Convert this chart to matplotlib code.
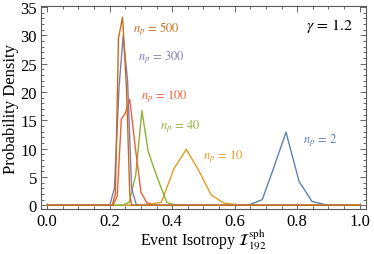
import matplotlib
matplotlib.use("Agg")
import matplotlib.pyplot as plt
from matplotlib.ticker import MultipleLocator

plt.rcParams['font.family'] = ['Liberation Serif', 'DejaVu Serif']
plt.rcParams['mathtext.fontset'] = 'stix'

# histogram curves (bin centre, density)
x_2 = [0.0, 0.60, 0.647, 0.688, 0.722, 0.764, 0.806, 0.847, 0.89, 0.93, 1.0]
y_2 = [0.0, 0.0, 0.1, 1.0, 6.2, 12.9, 4.2, 0.7, 0.1, 0.0, 0.0]

x_10 = [0.0, 0.28, 0.325, 0.365, 0.405, 0.445, 0.485, 0.525, 0.565, 0.605, 0.65, 1.0]
y_10 = [0.0, 0.0, 0.2, 0.5, 6.4, 9.9, 6.1, 1.8, 0.4, 0.1, 0.0, 0.0]

x_40 = [0.0, 0.24, 0.262, 0.283, 0.303, 0.323, 0.343, 0.363, 0.383, 0.403, 0.42, 1.0]
y_40 = [0.0, 0.0, 0.5, 5.3, 16.7, 9.5, 6.3, 3.3, 0.5, 0.1, 0.0, 0.0]

x_100 = [0.0, 0.21, 0.224, 0.237, 0.250, 0.264, 0.280, 0.300, 0.318, 0.338, 1.0]
y_100 = [0.0, 0.0, 1.6, 15.2, 16.3, 18.7, 11.0, 2.3, 0.5, 0.0, 0.0]

x_300 = [0.0, 0.20, 0.215, 0.230, 0.243, 0.257, 0.270, 0.284, 0.29, 1.0]
y_300 = [0.0, 0.0, 3.0, 21.0, 29.9, 22.0, 3.0, 0.3, 0.0, 0.0]

x_500 = [0.0, 0.208, 0.218, 0.228, 0.241, 0.254, 0.264, 0.270, 1.0]
y_500 = [0.0, 0.0, 2.0, 29.5, 33.2, 20.0, 2.0, 0.0, 0.0]

labels = [r'$n_p\,=\,2$', r'$n_p\,=\,10$', r'$n_p\,=\,40$',
          r'$n_p\,=\,100$', r'$n_p\,=\,300$', r'$n_p\,=\,500$']
label_pos = [(0.82, 11.5), (0.50, 8.7), (0.36, 14.1), (0.30, 19.3), (0.29, 26.3), (0.275, 31.3)]
colors = ['#5E81B5', '#E19C24', '#8FB032', '#EB6235', '#8778B3', '#C56E1A']

xs = [x_2, x_10, x_40, x_100, x_300, x_500]
ys = [y_2, y_10, y_40, y_100, y_300, y_500]

fig = plt.figure(figsize=(3.74, 2.55), dpi=100)
ax = fig.add_axes([0.1096, 0.1776, 0.8690, 0.7938])

for x, y, c in zip(xs, ys, colors):
    ax.plot(x, y, color=c, lw=1.0)

for (tx, ty), lab, c in zip(label_pos, labels, colors):
    ax.text(tx, ty, lab, color=c, fontsize=9, va='center', ha='left')

ax.text(0.962, 0.91, r'$\gamma\,=\,1.2$', transform=ax.transAxes,
        ha='right', va='center', fontsize=11.5)

ax.set_xlim(-0.02, 1.02)
ax.set_ylim(-0.6, 35.12)
ax.xaxis.set_major_locator(MultipleLocator(0.2))
ax.xaxis.set_minor_locator(MultipleLocator(0.05))
ax.yaxis.set_major_locator(MultipleLocator(5))
ax.yaxis.set_minor_locator(MultipleLocator(1))
ax.xaxis.set_major_formatter(plt.FuncFormatter(lambda v, p: f'{v:.1f}'))
ax.yaxis.set_major_formatter(plt.FuncFormatter(lambda v, p: f'{v:.0f}'))

ax.tick_params(which='both', direction='in', top=True, right=True,
               color='0.4', labelsize=12, width=0.7)
ax.tick_params(which='major', length=4, pad=3)
ax.tick_params(which='minor', length=2)
for s in ax.spines.values():
    s.set_color('0.35')
    s.set_linewidth(0.8)

ax.set_xlabel(r'Event Isotropy $\mathcal{I}^{\rm sph}_{192}$', fontsize=11.5, labelpad=-1)
ax.set_ylabel('Probability Density', fontsize=12, labelpad=1)

fig.savefig('out.png', dpi=100)
